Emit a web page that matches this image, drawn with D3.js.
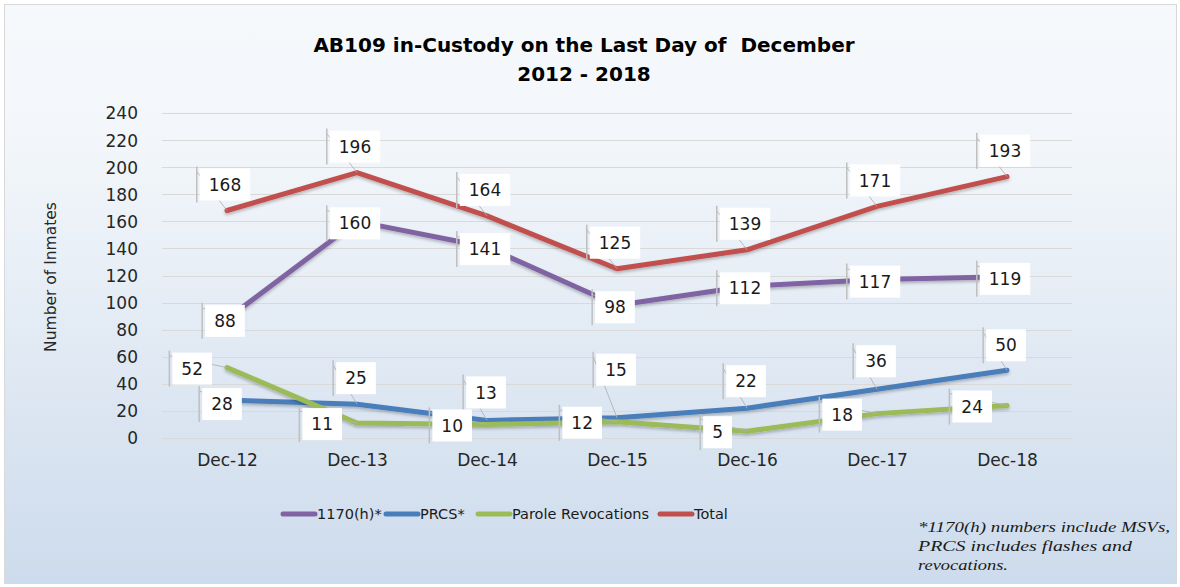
<!DOCTYPE html>
<html>
<head>
<meta charset="utf-8">
<script src="https://cdn.jsdelivr.net/npm/d3@7"></script>
<style>
  html, body { margin: 0; padding: 0; background: #ffffff; }
  svg { display: block; }
  .pre { white-space: pre; }
</style>
</head>
<body>
<svg id="chart" width="1180" height="587"></svg>
<script>
// ---------------- data ----------------
const categories = ["Dec-12", "Dec-13", "Dec-14", "Dec-15", "Dec-16", "Dec-17", "Dec-18"];
const series1170h = [88, 160, 141, 98, 112, 117, 119];
const seriesPRCS = [28, 25, 13, 15, 22, 36, 50];
const seriesParole = [52, 11, 10, 12, 5, 18, 24];
const seriesTotal = [168, 196, 164, 125, 139, 171, 193];
const yTicks = [0, 20, 40, 60, 80, 100, 120, 140, 160, 180, 200, 220, 240];
const seriesNames = ["1170(h)*", "PRCS*", "Parole Revocations", "Total"];
const titleLines = ["AB109 in-Custody on the Last Day of  December", "2012 - 2018"];
const yAxisTitle = "Number of Inmates";
const footnoteLines = ["*1170(h) numbers include MSVs,", "PRCS includes flashes and", "revocations."];

// ---------------- styles / layout ----------------
const colors = ["#8064a2", "#4a7ebb", "#9bbb59", "#c0504d"];
const seriesValues = [series1170h, seriesPRCS, seriesParole, seriesTotal];
const labelMode = ["center", "above", "left", "above"];
const prcsLabelDy = [4, -26, -28, -48, -27, -28, -25];
const FONT = "'DejaVu Sans', sans-serif";

const svg = d3.select("#chart");

const defs = svg.append("defs");
const grad = defs.append("linearGradient").attr("id", "bg").attr("x1", 0).attr("y1", 0).attr("x2", 0).attr("y2", 1);
grad.append("stop").attr("offset", "0%").attr("stop-color", "#f6f9fc");
grad.append("stop").attr("offset", "25%").attr("stop-color", "#f2f6fa");
grad.append("stop").attr("offset", "100%").attr("stop-color", "#cddbec");
const shadow = defs.append("filter").attr("id", "shadow").attr("x", "-10%").attr("y", "-10%").attr("width", "120%").attr("height", "130%");
shadow.append("feDropShadow").attr("dx", 0).attr("dy", 2).attr("stdDeviation", 1.5).attr("flood-color", "#000").attr("flood-opacity", 0.25);

svg.append("rect").attr("x", 4.5).attr("y", 4.5).attr("width", 1172).attr("height", 579)
  .attr("fill", "url(#bg)").attr("stroke", "#d9d9d9").attr("stroke-width", 1);

const plotLeft = 162, plotRight = 1072, plotTop = 113, plotBottom = 438;
const x = d3.scalePoint().domain(categories).range([plotLeft, plotRight]).padding(0.5);
const y = d3.scaleLinear().domain([0, 240]).range([plotBottom, plotTop]);

// gridlines
svg.append("g").selectAll("line").data(yTicks).join("line")
  .attr("x1", plotLeft).attr("x2", plotRight)
  .attr("y1", d => Math.round(y(d)) + 0.5).attr("y2", d => Math.round(y(d)) + 0.5)
  .attr("stroke", "#d9d9d9").attr("stroke-width", 1.2);

// y axis labels
const yAxis = d3.axisLeft(y).tickValues(yTicks).tickSize(0).tickPadding(0);
const yg = svg.append("g").attr("transform", `translate(138,0)`).call(yAxis);
yg.select(".domain").remove();
yg.selectAll("text").attr("font-family", FONT).attr("font-size", 17).attr("fill", "#262626").attr("dy", "0.35em");

// x axis labels
const xAxis = d3.axisBottom(x).tickSize(0).tickPadding(0);
const xg = svg.append("g").attr("transform", `translate(0,460)`).call(xAxis);
xg.select(".domain").remove();
xg.selectAll("text").attr("font-family", FONT).attr("font-size", 17).attr("fill", "#262626").attr("dy", "0.35em");

// title
svg.append("g").selectAll("text").data(titleLines).join("text")
  .attr("class", "pre")
  .attr("x", 584).attr("y", (d, i) => 52 + i * 29)
  .attr("text-anchor", "middle").attr("font-family", FONT).attr("font-weight", "bold")
  .attr("font-size", 20).attr("fill", "#000").text(d => d);

// y axis title
svg.append("text").attr("transform", "translate(56,277) rotate(-90)")
  .attr("text-anchor", "middle").attr("font-family", FONT).attr("font-size", 15.5)
  .attr("fill", "#262626").text(yAxisTitle);

// lines
const line = d3.line().x((d, i) => x(categories[i])).y(d => y(d));
const linesG = svg.append("g");
seriesValues.forEach((vals, s) => {
  linesG.append("path").datum(vals).attr("d", line)
    .attr("fill", "none").attr("stroke", colors[s]).attr("stroke-width", 5)
    .attr("stroke-linejoin", "round").attr("stroke-linecap", "round")
    .attr("filter", "url(#shadow)");
});

// data labels
const labelsG = svg.append("g");
const leaderG = svg.append("g");
const measure = svg.append("text").attr("font-family", FONT).attr("font-size", 17).attr("visibility", "hidden");
seriesValues.forEach((vals, s) => {
  vals.forEach((v, i) => {
    const px = x(categories[i]), py = y(v);
    measure.text(String(v));
    const tw = measure.node().getComputedTextLength();
    const bw = tw + 18, bh = 32;
    let cx, cy;
    if (labelMode[s] === "center") { cx = px - 2; cy = py + 2; }
    else if (labelMode[s] === "left") { cx = px - 15 - bw / 2; cy = py + 1; }
    else if (s === 1) { cx = px - 1; cy = py + prcsLabelDy[i]; if (i === 0) cx = px - 5; }
    else { cx = px - 2; cy = py - 26; }
    const bx = cx - bw / 2, by = cy - bh / 2;
    labelsG.append("rect").attr("x", bx).attr("y", by).attr("width", bw).attr("height", bh).attr("fill", "#ffffff");
    labelsG.append("text").attr("x", cx).attr("y", cy).attr("dy", "0.36em")
      .attr("text-anchor", "middle").attr("font-family", FONT).attr("font-size", 17)
      .attr("fill", "#1a1a1a").text(v);
    const lx = bx - 3;
    leaderG.append("line").attr("class", "vbar").attr("x1", lx).attr("x2", lx).attr("y1", by - 2).attr("y2", by + bh + 2)
      .attr("stroke", "#bfbfbf").attr("stroke-width", 1.5);
    leaderG.append("line").attr("class", "diag").attr("x1", lx).attr("y1", by + 3).attr("x2", px).attr("y2", py)
      .attr("stroke", "#b0b0b0").attr("stroke-width", 1).attr("opacity", 0.85);
  });
});
measure.remove();
labelsG.raise();
leaderG.selectAll("line.vbar").raise();

// legend
const legendItems = [
  { name: seriesNames[0], x0: 283 },
  { name: seriesNames[1], x0: 386 },
  { name: seriesNames[2], x0: 478 },
  { name: seriesNames[3], x0: 660 }
];
const legG = svg.append("g");
legendItems.forEach((it, s) => {
  legG.append("line").attr("x1", it.x0).attr("x2", it.x0 + 32).attr("y1", 514).attr("y2", 514)
    .attr("stroke", colors[s]).attr("stroke-width", 5).attr("stroke-linecap", "round");
  legG.append("text").attr("x", it.x0 + 34).attr("y", 514).attr("dy", "0.35em")
    .attr("font-family", FONT).attr("font-size", 14.5).attr("fill", "#1a1a1a").text(it.name);
});

// footnote
const fnWidths = [252, 214, 90];
svg.append("g").selectAll("text").data(footnoteLines).join("text")
  .attr("x", 918).attr("y", (d, i) => 532 + i * 19)
  .attr("font-family", "'Liberation Serif', serif").attr("font-style", "italic")
  .attr("font-size", 15).attr("fill", "#1a1a1a")
  .attr("textLength", (d, i) => fnWidths[i]).attr("lengthAdjust", "spacingAndGlyphs")
  .text(d => d);
</script>
</body>
</html>
